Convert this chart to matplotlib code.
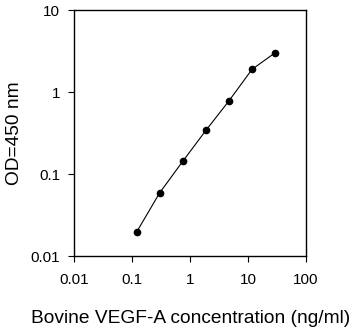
import numpy as np
import matplotlib.pyplot as plt

plt.rcParams['font.family'] = ['Liberation Sans', 'DejaVu Sans']

# standard curve: concentration (ng/ml) vs OD at 450 nm
conc = [0.12, 0.30, 0.75, 1.875, 4.69, 11.72, 29.3]
od = [0.0196, 0.059, 0.143, 0.34, 0.78, 1.89, 3.01]

xticks = [0.01, 0.1, 1, 10, 100]
xticklabels = ['0.01', '0.1', '1', '10', '100']
yticks = [0.01, 0.1, 1, 10]
yticklabels = ['0.01', '0.1', '1', '10']

fig = plt.figure(figsize=(3.57, 3.34), dpi=100)
ax = fig.add_axes([0.2073, 0.2335, 0.650, 0.7365])

ax.plot(conc, od, color='black', linewidth=0.8, marker='o', markersize=4.5)

ax.set_xscale('log')
ax.set_yscale('log')
ax.set_xlim(0.01, 100)
ax.set_ylim(0.01, 10)
ax.set_xticks(xticks)
ax.set_xticklabels(xticklabels)
ax.set_yticks(yticks)
ax.set_yticklabels(yticklabels)
ax.minorticks_off()

ax.tick_params(axis='both', direction='out', length=4, width=0.8, labelsize=11)
ax.tick_params(axis='x', pad=8)
ax.tick_params(axis='y', pad=6)
for sp in ax.spines.values():
    sp.set_linewidth(1.0)

fig.text(0.535, 0.045, 'Bovine VEGF-A concentration (ng/ml)', fontsize=13.8,
         ha='center', va='center')
fig.text(0.042, 0.602, 'OD=450 nm', fontsize=13.8, rotation=90,
         ha='center', va='center')

fig.savefig('out.png', dpi=100)
